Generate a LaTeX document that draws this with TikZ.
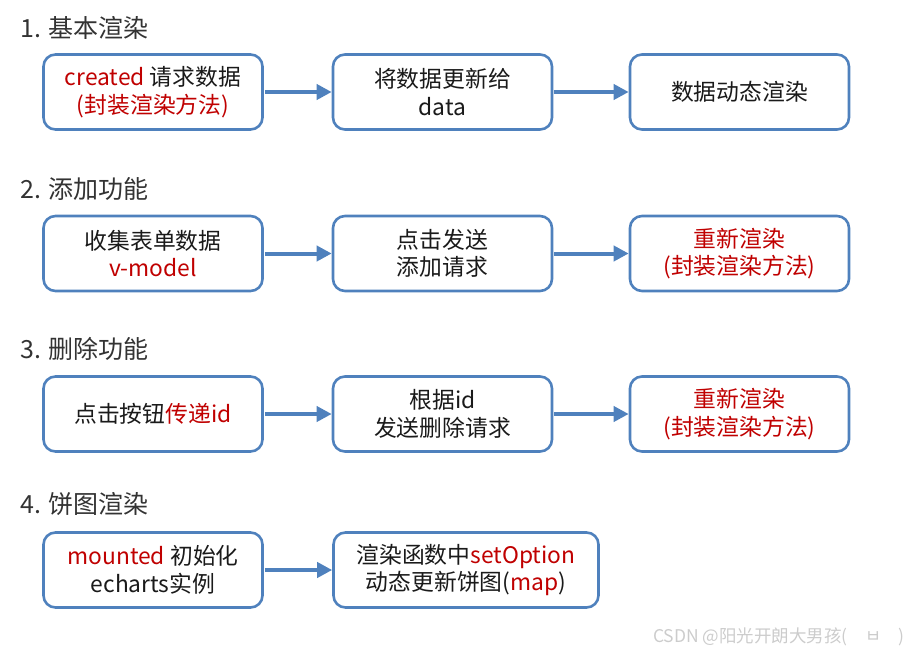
\documentclass[tikz,border=0pt]{standalone}
\usepackage{fontspec}
\setmainfont{Noto Sans CJK SC}
\usetikzlibrary{arrows.meta}
\definecolor{bblue}{HTML}{4F81BD}
\definecolor{rred}{HTML}{C00000}
\definecolor{hgray}{HTML}{333333}
\definecolor{tblack}{HTML}{1A1A1A}
\tikzset{
  box/.style={draw=bblue, line width=2.6pt, rounded corners=12pt, fill=white,
    minimum width=219pt, minimum height=75pt, align=center,
    font=\fontsize{22.8}{27.5}\selectfont, text=tblack, inner sep=2pt},
  arr/.style={draw=bblue, line width=4pt, -{Triangle[length=15pt,width=15pt]}, shorten <=1pt},
  head/.style={anchor=west, font=\fontsize{25}{30}\selectfont, text=hgray, inner sep=0pt},
  wm/.style={anchor=east, font=\fontsize{17.5}{20}\selectfont, text=black!20, inner sep=0pt}
}
\begin{document}
\begin{tikzpicture}[x=1pt,y=-1pt]
\useasboundingbox (0,0) rectangle (918,653);
% headings
\node[head] (h1) at (20,28) {1. 基本渲染};
\node[head] (h2) at (20,189) {2. 添加功能};
\node[head] (h3) at (20,349) {3. 删除功能};
\node[head] (h4) at (20,504) {4. 饼图渲染};
% row 1
\node[box] (a1) at (153,92) {\textcolor{rred}{created} 请求数据\\\textcolor{rred}{(封装渲染方法)}};
\node[box] (b1) at (442.5,92) {将数据更新给\\data};
\node[box] (c1) at (739.5,92) {数据动态渲染};
% row 2
\node[box] (a2) at (153,253.5) {收集表单数据\\\textcolor{rred}{v-model}};
\node[box] (b2) at (442.5,253.5) {点击发送\\添加请求};
\node[box] (c2) at (739.5,253.5) {\textcolor{rred}{重新渲染}\\\textcolor{rred}{(封装渲染方法)}};
% row 3
\node[box] (a3) at (153,414) {点击按钮\textcolor{rred}{传递id}};
\node[box] (b3) at (442.5,414) {根据id\\发送删除请求};
\node[box] (c3) at (739.5,414) {\textcolor{rred}{重新渲染}\\\textcolor{rred}{(封装渲染方法)}};
% row 4
\node[box] (a4) at (153,570) {\textcolor{rred}{mounted} 初始化\\echarts实例};
\node[box, minimum width=265pt] (b4) at (466,570) {渲染函数中\textcolor{rred}{setOption}\\动态更新饼图(\textcolor{rred}{map})};
% arrows
\draw[arr] (a1) -- (b1);
\draw[arr] (b1) -- (c1);
\draw[arr] (a2) -- (b2);
\draw[arr] (b2) -- (c2);
\draw[arr] (a3) -- (b3);
\draw[arr] (b3) -- (c3);
\draw[arr] (a4) -- (b4);
% watermark
\node[wm] (w) at (905,637) {CSDN @阳光开朗大男孩(\quad ㅂ\quad )};
\end{tikzpicture}
\end{document}
